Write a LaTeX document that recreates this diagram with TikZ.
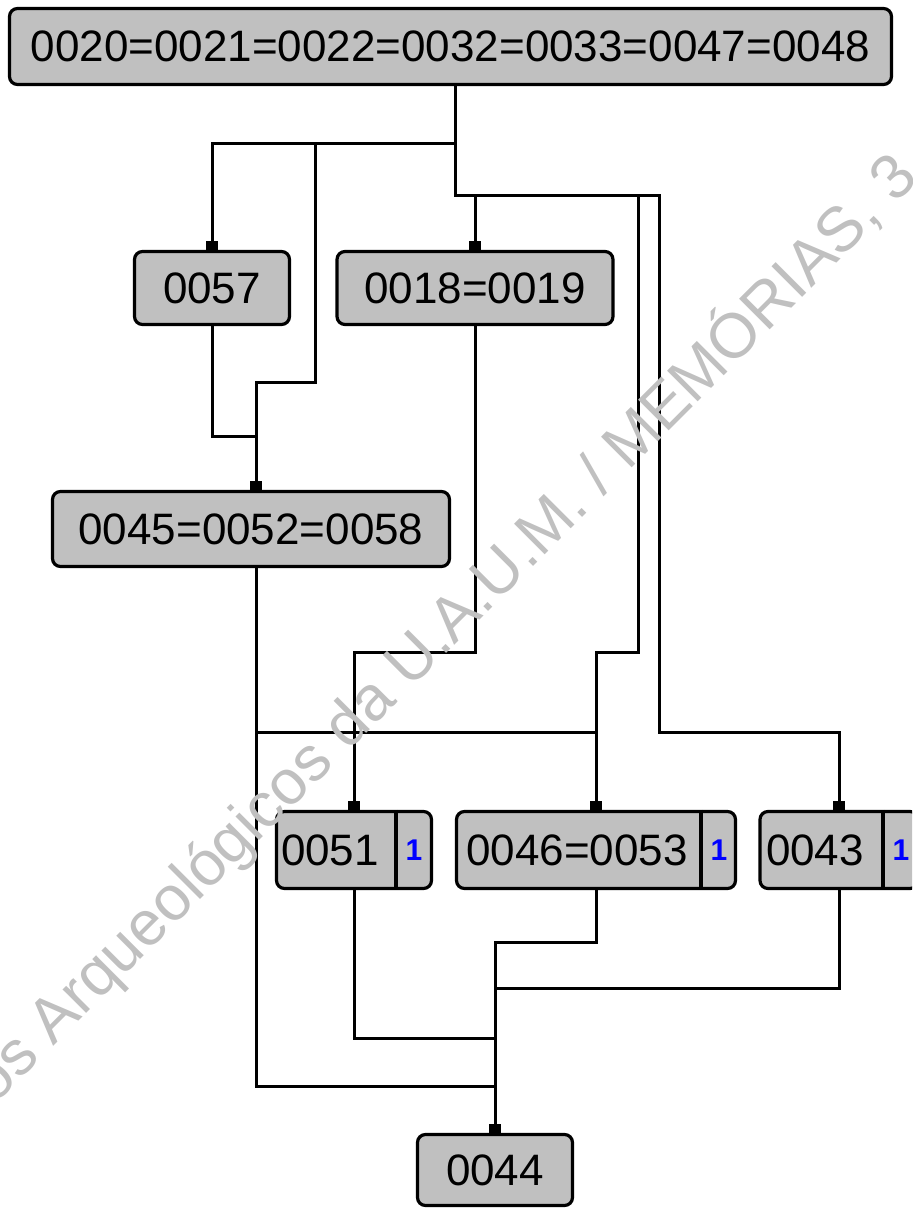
\documentclass[tikz,border=0pt]{standalone}
\usepackage{fontspec}
\setmainfont{Liberation Sans}
\usetikzlibrary{arrows.meta}
\definecolor{BoxFill}{HTML}{C0C0C0}
\definecolor{CountInk}{HTML}{0000FF}
\definecolor{MarkInk}{HTML}{C0C0C0}
\tikzset{
  unit box/.style={draw=black, fill=BoxFill, rounded corners=4pt, line width=1.6pt,
    inner sep=0pt, font=\fontsize{22}{24}\selectfont},
  unit text/.style={inner sep=0pt, font=\fontsize{22}{24}\selectfont},
  count text/.style={inner sep=0pt, text=CountInk, font=\bfseries\fontsize{15}{16}\selectfont},
  link/.style={-{Square[length=4.5pt,width=6pt]}, draw=black, line width=1.5pt},
  divider/.style={draw=black, line width=1.6pt},
  watermark/.style={text=MarkInk, font=\fontsize{31.5}{33}\selectfont, rotate=45,
    anchor=base west, inner sep=0pt},
}

\begin{document}
\begin{tikzpicture}[x=0.5pt, y=-0.5pt]
  % Page frame, in pixels of the matrix.
  \clip (0,0) rectangle (912,1209);

  % Units of the matrix.
  \node[unit box, minimum width=441pt, minimum height=38pt] (top) at (450.5,46.5)
    {0020=0021=0022=0032=0033=0047=0048};
  \node[unit box, minimum width=77.5pt, minimum height=36.5pt] (n57) at (212,288) {0057};
  \node[unit box, minimum width=138pt, minimum height=36.5pt] (n18) at (475,288) {0018=0019};
  \node[unit box, minimum width=198.5pt, minimum height=37.5pt] (n45) at (251,529) {0045=0052=0058};

  % Units with a count cell.
  \node[unit box, minimum width=77.5pt, minimum height=38.5pt] (n51) at (354,850) {};
  \node[unit text] (n51t) at ([xshift=-12pt]n51.center) {0051};
  \node[count text] (n51c) at ([xshift=30pt]n51.center) {1};
  \draw[divider] ([xshift=21pt]n51.north) -- ([xshift=21pt]n51.south);

  \node[unit box, minimum width=139.5pt, minimum height=38.5pt] (n46) at (596,850) {};
  \node[unit text] (n46t) at ([xshift=-9.5pt]n46.center) {0046=0053};
  \node[count text] (n46c) at ([xshift=61.5pt]n46.center) {1};
  \draw[divider] ([xshift=52.5pt]n46.north) -- ([xshift=52.5pt]n46.south);

  \node[unit box, minimum width=79pt, minimum height=38.5pt] (n43) at (839,850) {};
  \node[unit text] (n43t) at ([xshift=-12pt]n43.center) {0043};
  \node[count text] (n43c) at ([xshift=31pt]n43.center) {1};
  \draw[divider] ([xshift=22pt]n43.north) -- ([xshift=22pt]n43.south);

  \node[unit box, minimum width=77.5pt, minimum height=35.5pt] (n44) at (495,1170) {0044};

  % Relations from the top unit.
  \draw[link] ([xshift=2.25pt]top.south) -- ++(0,57) -| (n57.north);
  \draw[link] ([xshift=2.25pt]top.south) -- ++(0,57) -| ++(-140,239) -| ([xshift=2.5pt]n45.north);
  \draw[link] ([xshift=2.25pt]top.south) -- ++(0,109) -| (n18.north);
  \draw[link] ([xshift=2.25pt]top.south) -- ++(0,109) -| ++(183,457) -| (n46.north);
  \draw[link] ([xshift=2.25pt]top.south) -- ++(0,109) -| ++(204,537) -| (n43.north);

  % Middle relations.
  \draw[link] (n57.south) -- ++(0,110) -| ([xshift=2.5pt]n45.north);
  \draw[link] (n18.south) -- ++(0,326) -| (n51.north);
  \draw[link] ([xshift=2.5pt]n45.south) -- ++(0,164) -| (n46.north);

  % Relations to the bottom unit.
  \draw[link] ([xshift=2.5pt]n45.south) -- ++(0,518) -| (n44.north);
  \draw[link] (n51.south) -- ++(0,148) -| (n44.north);
  \draw[link] (n46.south) -- ++(0,52) -| (n44.north);
  \draw[link] (n43.south) -- ++(0,98) -| (n44.north);

  % Watermark over the matrix.
  \node[watermark] (mark) at (-6,1106) {os Arqueológicos da U.A.U.M. / MEMÓRIAS, 3};
\end{tikzpicture}
\end{document}
